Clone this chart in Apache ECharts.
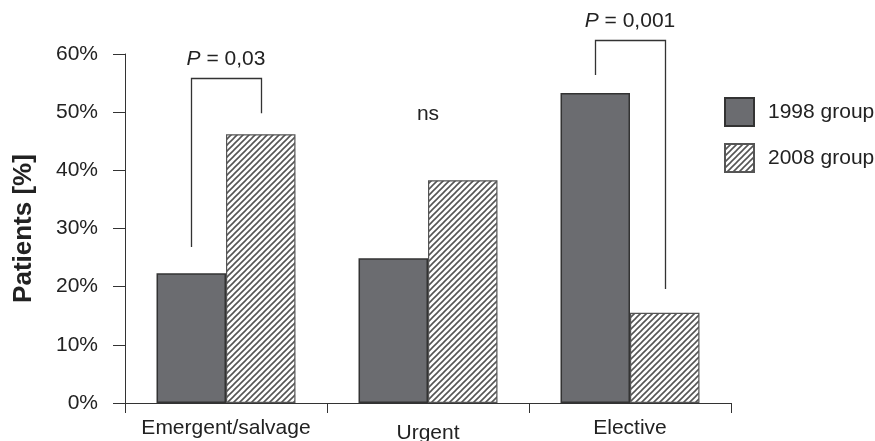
<!DOCTYPE html>
<html>
<head>
<meta charset="utf-8">
<script src="https://cdn.jsdelivr.net/npm/echarts@6/dist/echarts.min.js"></script>
<style>html,body{margin:0;padding:0;background:#fff;}#c{width:875px;height:441px;}</style>
</head>
<body>
<div id="c"></div>
<script>
const categories = ['Emergent/salvage', 'Urgent', 'Elective'];
const group1998 = [22.3, 24.9, 53.3];
const group2008 = [46.2, 38.3, 15.5];
const yTicks = [0, 10, 20, 30, 40, 50, 60];
// bracket: [category index, left end, right end, top]
const brackets = [[0, 26.8, 49.8, 55.8], [2, 56.4, 19.6, 62.4]];
const bracketLabels = ['0,03', '0,001'];
const nsLabel = [[1, 49.6]];

const FONT = '"Liberation Sans", Arial, sans-serif';

function hatch() {
  const s = 6, c = document.createElement('canvas');
  c.width = s; c.height = s;
  const g = c.getContext('2d');
  g.fillStyle = '#ffffff'; g.fillRect(0, 0, s, s);
  g.strokeStyle = '#555555'; g.lineWidth = 1.6;
  g.beginPath();
  g.moveTo(-1, s + 1); g.lineTo(s + 1, -1);
  g.moveTo(-1, 1); g.lineTo(1, -1);
  g.moveTo(s - 1, s + 1); g.lineTo(s + 1, s - 1);
  g.stroke();
  return c;
}

const chart = echarts.init(document.getElementById('c'), null, {renderer: 'canvas'});
const BARW = 0.344;
chart.setOption({
  animation: false,
  backgroundColor: '#ffffff',
  textStyle: {fontFamily: FONT},
  grid: {left: 125, right: 144, top: 54, bottom: 38, containLabel: false, outerBoundsMode: 'none'},
  legend: {
    orient: 'vertical', left: 724, top: 97, padding: 0,
    itemWidth: 29, itemHeight: 28, itemGap: 16,
    icon: 'rect',
    textStyle: {fontSize: 21, color: '#222', fontFamily: FONT, padding: [0, 0, 0, 9]},
    data: ['1998 group', '2008 group']
  },
  xAxis: {
    type: 'category',
    data: categories.map((c, i) => i === 1 ? {value: c, textStyle: {padding: [5, 0, 0, 0]}} : c),
    axisLine: {lineStyle: {color: '#333', width: 1}},
    axisTick: {show: true, alignWithLabel: false, interval: 0, length: 10, lineStyle: {color: '#333'}},
    axisLabel: {fontSize: 21, color: '#222', margin: 15, interval: 0, hideOverlap: false, fontFamily: FONT}
  },
  yAxis: {
    type: 'value', min: 0, max: 60, interval: 10,
    name: 'Patients [%]', nameLocation: 'middle', nameGap: 88,
    nameTextStyle: {fontSize: 26, fontWeight: 'bold', color: '#222', fontFamily: FONT},
    axisLine: {show: true, lineStyle: {color: '#333', width: 1}},
    axisTick: {show: true, length: 12, lineStyle: {color: '#333'}},
    splitLine: {show: false},
    axisLabel: {fontSize: 21, color: '#222', margin: 27, fontFamily: FONT,
      formatter: v => yTicks.includes(v) ? v + '%' : ''}
  },
  series: [
    {
      name: '1998 group', type: 'bar', data: group1998, barWidth: (BARW * 100) + '%', barGap: '0%',
      itemStyle: {color: '#6b6c70', borderColor: '#333', borderWidth: 1.5}
    },
    {
      name: '2008 group', type: 'bar', data: group2008, barWidth: (BARW * 100) + '%', barGap: '0%',
      itemStyle: {color: {image: hatch(), repeat: 'repeat'}, borderColor: '#555', borderWidth: 1.2}
    },
    {
      type: 'custom', data: brackets, clip: false, silent: true, z: 5,
      encode: {x: 0, y: [1, 2, 3]},
      renderItem: function (params, api) {
        const cat = api.value(0);
        const band = api.size([1, 0])[0];
        const off = band * BARW / 2;
        const top = api.coord([cat, api.value(3)]);
        const l = api.coord([cat, api.value(1)]);
        const r = api.coord([cat, api.value(2)]);
        const xl = Math.round(top[0] - off) + 0.5, xr = Math.round(top[0] + off) + 0.5;
        const yt = Math.round(top[1]) + 0.5;
        return {
          type: 'group',
          children: [
            {type: 'polyline', shape: {points: [[xl, l[1]], [xl, yt], [xr, yt], [xr, r[1]]]},
              style: {stroke: '#333', lineWidth: 1.3, fill: null}},
            {type: 'text', style: {
              text: '{i|P} = ' + bracketLabels[params.dataIndex],
              x: top[0], y: yt - 19, align: 'center', verticalAlign: 'middle',
              fontSize: 21, fill: '#222', fontFamily: FONT,
              rich: {i: {fontStyle: 'italic', fontSize: 21, fill: '#222', fontFamily: FONT}}
            }}
          ]
        };
      }
    },
    {
      type: 'custom', data: nsLabel, clip: false, silent: true, z: 5,
      encode: {x: 0, y: 1},
      renderItem: function (params, api) {
        const p = api.coord([api.value(0), api.value(1)]);
        return {type: 'text', style: {text: 'ns', x: p[0], y: p[1], align: 'center',
          verticalAlign: 'middle', fontSize: 21, fill: '#222', fontFamily: FONT}};
      }
    }
  ]
});
</script>
</body>
</html>
